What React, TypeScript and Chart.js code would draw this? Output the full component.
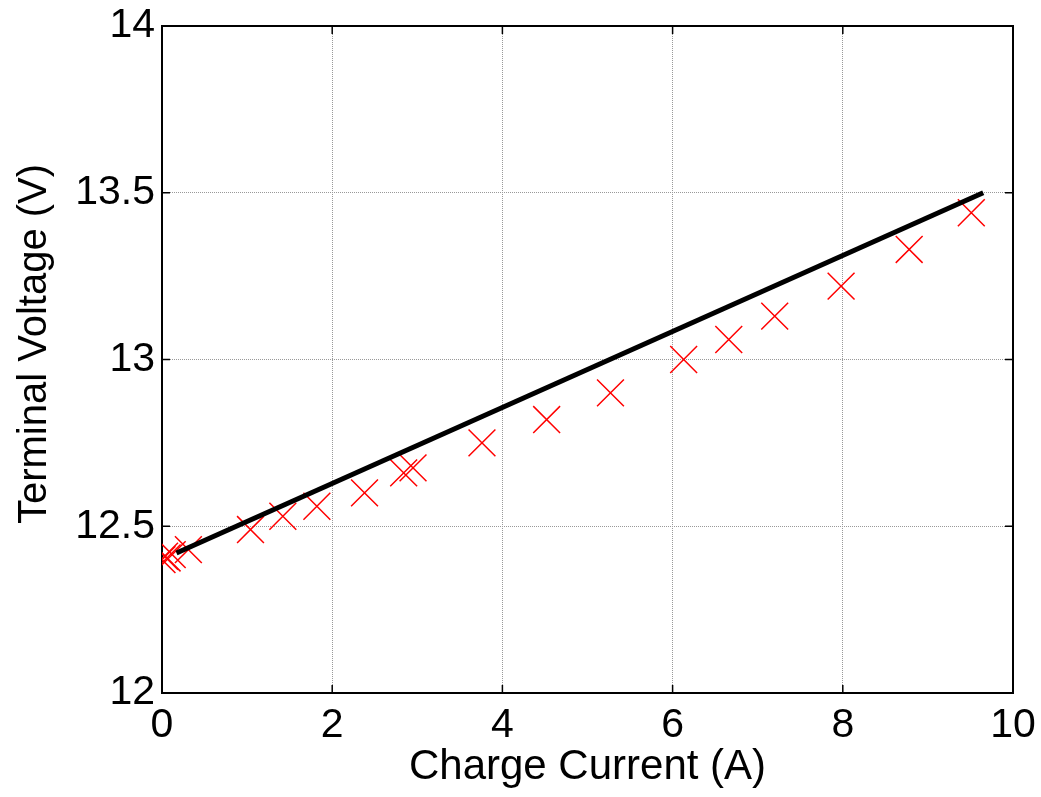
import React, { useEffect, useRef } from "react";
import { Chart, registerables } from "chart.js";

Chart.register(...registerables);

// Measured points (Charge Current A, Terminal Voltage V)
const currentA = [0, 0.03, 0.06, 0.12, 0.31, 1.04, 1.42, 1.82, 2.38, 2.84, 2.95, 3.76, 4.52, 5.27, 6.13, 6.66, 7.2, 7.98, 8.78, 9.51];
const voltageV = [12.4, 12.41, 12.405, 12.415, 12.43, 12.49, 12.53, 12.56, 12.6, 12.66, 12.675, 12.75, 12.82, 12.9, 13.0, 13.06, 13.13, 13.22, 13.33, 13.44];

// Model line
const fitX = [0.17, 9.65];
const fitY = [12.42, 13.5];

const xTickValues = [0, 2, 4, 6, 8, 10];
const yTickValues = [12, 12.5, 13, 13.5, 14];

const xTitle = "Charge Current (A)";
const yTitle = "Terminal Voltage (V)";

const FONT = "'Liberation Sans', Arial, sans-serif";

const boxPlugin = {
  id: "matlabBox",
  beforeDatasetsDraw(chart: any) {
    const { ctx, chartArea } = chart;
    const { left, right, top, bottom } = chartArea;
    const xs = chart.scales.x;
    const ys = chart.scales.y;
    ctx.save();
    ctx.strokeStyle = "#000";
    ctx.lineWidth = 2;
    ctx.strokeRect(left, top, right - left, bottom - top);
    const tl = 8;
    ctx.lineWidth = 1.5;
    ctx.beginPath();
    for (const v of xTickValues) {
      const px = xs.getPixelForValue(v);
      ctx.moveTo(px, bottom);
      ctx.lineTo(px, bottom - tl);
      ctx.moveTo(px, top);
      ctx.lineTo(px, top + tl);
    }
    for (const v of yTickValues) {
      const py = ys.getPixelForValue(v);
      ctx.moveTo(left, py);
      ctx.lineTo(left + tl, py);
      ctx.moveTo(right, py);
      ctx.lineTo(right - tl, py);
    }
    ctx.stroke();
    ctx.restore();
  },
  afterDraw(chart: any) {
    const { ctx } = chart;
    ctx.save();
    ctx.translate(35, 344);
    ctx.rotate(-Math.PI / 2);
    ctx.fillStyle = "#000";
    ctx.font = `40px ${FONT}`;
    ctx.textAlign = "center";
    ctx.textBaseline = "middle";
    ctx.fillText(yTitle, 0, 0);
    ctx.restore();
  },
};

export default function App() {
  const ref = useRef<HTMLCanvasElement | null>(null);

  useEffect(() => {
    if (!ref.current) return;
    const markerData = currentA.map((x, i) => ({ x, y: voltageV[i] }));
    const lineData = fitX.map((x, i) => ({ x, y: fitY[i] }));
    const chart = new Chart(ref.current, {
      type: "scatter",
      data: {
        datasets: [
          {
            label: "Model",
            data: lineData,
            showLine: true,
            borderColor: "#000",
            backgroundColor: "#000",
            borderWidth: 5,
            pointRadius: 0,
            order: 0,
          },
          {
            label: "Measured",
            data: markerData,
            showLine: false,
            pointStyle: "crossRot",
            pointRadius: 19,
            pointBorderWidth: 1.5,
            borderColor: "#ff0000",
            backgroundColor: "#ff0000",
            order: 1,
          },
        ],
      },
      options: {
        responsive: false,
        animation: false,
        layout: { padding: { top: 0, right: 0, left: 0, bottom: 0 } },
        plugins: {
          legend: { display: false },
          tooltip: { enabled: false },
        },
        scales: {
          x: {
            type: "linear",
            min: 0,
            max: 10,
            ticks: {
              stepSize: 2,
              color: "#000",
              padding: 8,
              font: { family: FONT, size: 41 },
              callback: (v: any) => String(v),
            },
            grid: { color: "#999999", lineWidth: 1, drawTicks: false },
            border: { display: false, dash: [1, 1] },
            title: {
              display: true,
              text: xTitle,
              color: "#000",
              font: { family: FONT, size: 42 },
              padding: { top: 0, bottom: 4 },
            },
            afterFit: (s: any) => {
              s.height = 104;
              s.paddingRight = 28;
              s.paddingLeft = 0;
            },
          },
          y: {
            type: "linear",
            min: 12,
            max: 14,
            ticks: {
              stepSize: 0.5,
              color: "#000",
              padding: 7,
              font: { family: FONT, size: 41 },
              callback: (v: any) => String(v),
            },
            grid: { color: "#999999", lineWidth: 1, drawTicks: false },
            border: { display: false, dash: [1, 1] },
            title: { display: false },
            afterFit: (s: any) => {
              s.width = 162;
              s.paddingTop = 26;
              s.paddingBottom = 0;
            },
          },
        },
      },
      plugins: [boxPlugin],
    });
    return () => chart.destroy();
  }, []);

  return (
    <div style={{ position: "fixed", left: 0, top: 0, width: 1041, height: 797, background: "#fff" }}>
      <canvas ref={ref} width={1041} height={797} />
    </div>
  );
}
